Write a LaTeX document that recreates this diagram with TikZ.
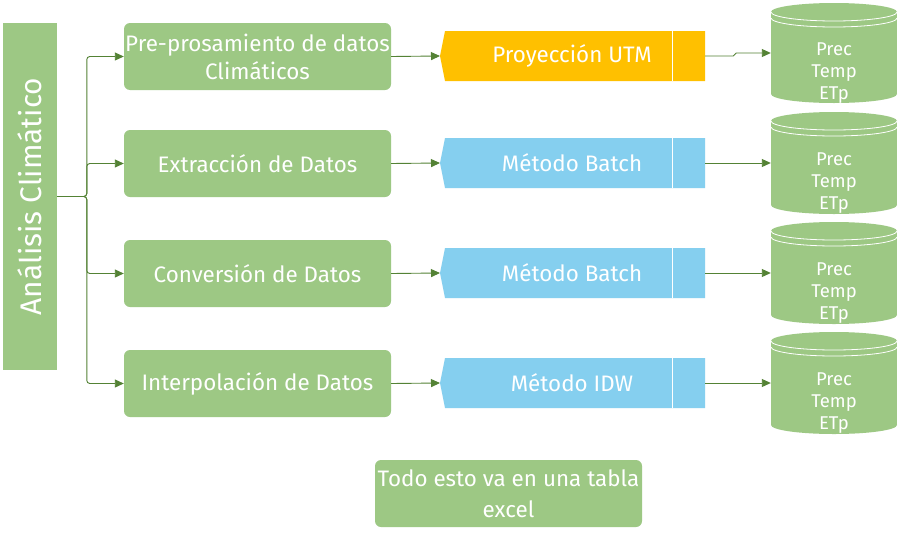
\documentclass[tikz,border=0pt]{standalone}
\usepackage{fontspec}
\setmainfont{Fira Sans}
\usetikzlibrary{arrows.meta,calc}
\definecolor{gfill}{HTML}{9DC884}
\definecolor{garrow}{HTML}{548235}
\definecolor{yfill}{HTML}{FFC000}
\definecolor{bfill}{HTML}{85CFEF}
\tikzset{
  gbox/.style={fill=gfill, rounded corners=6pt, minimum width=267pt, minimum height=67pt,
    text=white, align=center, inner sep=0pt, font=\fontsize{22.4}{28}\selectfont},
  conn/.style={draw=garrow, line width=0.9pt, -{Triangle[length=9pt,width=8pt]}},
  chtext/.style={text=white, font=\fontsize{22.4}{26}\selectfont, inner sep=0pt},
  cyltext/.style={text=white, align=center, font=\fontsize{18.5}{22}\selectfont, inner sep=0pt},
  anchorbox/.style={minimum width=#1, minimum height=50pt, inner sep=0pt},
}
\newcommand{\chevshape}[2]{% color, center y
  \fill[#1] (705,#2-25) -- (445,#2-25) -- (440,#2) -- (445,#2+25) -- (705,#2+25) -- cycle;
  \draw[white, line width=1pt] (672,#2-25) -- (672,#2+25);
}
\newcommand{\cylshape}[2]{% top, bottom
  \fill[gfill] (771,#1+9) rectangle (897,#2-9);
  \fill[gfill] (834,#1+9) ellipse [x radius=63pt, y radius=9pt];
  \fill[gfill] (834,#2-9) ellipse [x radius=63pt, y radius=9pt];
  \draw[white, line width=0.8pt] (771,#1+9) arc [start angle=180, end angle=360, x radius=63pt, y radius=9pt];
  \draw[white, line width=0.8pt] (771,#1+15) arc [start angle=180, end angle=360, x radius=63pt, y radius=9pt];
}
\begin{document}
\begin{tikzpicture}[x=1pt,y=-1pt]
\useasboundingbox[fill=white] (0,0) rectangle (899,533);

% root
\node[fill=gfill, minimum width=54pt, minimum height=347pt, inner sep=0pt, text=white,
  font=\fontsize{29.8}{30}\selectfont] (root) at (30,196.5) {\rotatebox{90}{Análisis Climático}};

% process boxes
\node[gbox] (g1) at (257.5,56.5) {Pre-prosamiento de datos\\Climáticos};
\node[gbox] (g2) at (257.5,163.5) {Extracción de Datos};
\node[gbox] (g3) at (257.5,273.5) {Conversión de Datos};
\node[gbox] (g4) at (257.5,383.5) {Interpolación de Datos};

% chevrons
\chevshape{yfill}{56}
\chevshape{bfill}{163}
\chevshape{bfill}{273}
\chevshape{bfill}{383}
\coordinate (t1) at (440,56);
\coordinate (t2) at (440,163);
\coordinate (t3) at (440,273);
\coordinate (t4) at (440,383);
\node[anchorbox=260pt] (p1) at (575,56) {};
\node[anchorbox=260pt] (p2) at (575,163) {};
\node[anchorbox=260pt] (p3) at (575,273) {};
\node[anchorbox=260pt] (p4) at (575,383) {};
\node[chtext] (p1t) at (572,56) {Proyección UTM};
\node[chtext] (p2t) at (572,163) {Método Batch};
\node[chtext] (p3t) at (572,273) {Método Batch};
\node[chtext] (p4t) at (572,383) {Método IDW};

% cylinders
\cylshape{3}{103}
\cylshape{112}{214}
\cylshape{222}{324}
\cylshape{332}{434}
\node[minimum width=126pt, minimum height=100pt, inner sep=0pt] (c1) at (834,53) {};
\node[minimum width=126pt, minimum height=100pt, inner sep=0pt] (c2) at (834,163) {};
\node[minimum width=126pt, minimum height=100pt, inner sep=0pt] (c3) at (834,273) {};
\node[minimum width=126pt, minimum height=100pt, inner sep=0pt] (c4) at (834,383) {};
\node[cyltext] (c1t) at (834,73) {Prec\\Temp\\ETp};
\node[cyltext] (c2t) at (834,183) {Prec\\Temp\\ETp};
\node[cyltext] (c3t) at (834,293) {Prec\\Temp\\ETp};
\node[cyltext] (c4t) at (834,403) {Prec\\Temp\\ETp};

% note
\node[gbox, font=\fontsize{22.4}{31}\selectfont] (note) at (508.5,493.5) {Todo esto va en una tabla\\excel};

% connectors
\draw[conn, rounded corners=3pt] (root.east) -| ([xshift=-37pt]g1.west) -- (g1.west);
\draw[conn, rounded corners=3pt] (root.east) -| ([xshift=-37pt]g2.west) -- (g2.west);
\draw[conn, rounded corners=3pt] (root.east) -| ([xshift=-37pt]g3.west) -- (g3.west);
\draw[conn, rounded corners=3pt] (root.east) -| ([xshift=-37pt]g4.west) -- (g4.west);

\draw[conn] (g1.east) -- (t1);
\draw[conn] (g2.east) -- (t2);
\draw[conn] (g3.east) -- (t3);
\draw[conn] (g4.east) -- (t4);

\draw[conn] (p1.east) -- ++(28,0) -- ++(3,-3) -- (c1.west);
\draw[conn] (p2.east) -- (c2.west);
\draw[conn] (p3.east) -- (c3.west);
\draw[conn] (p4.east) -- (c4.west);
\end{tikzpicture}
\end{document}
